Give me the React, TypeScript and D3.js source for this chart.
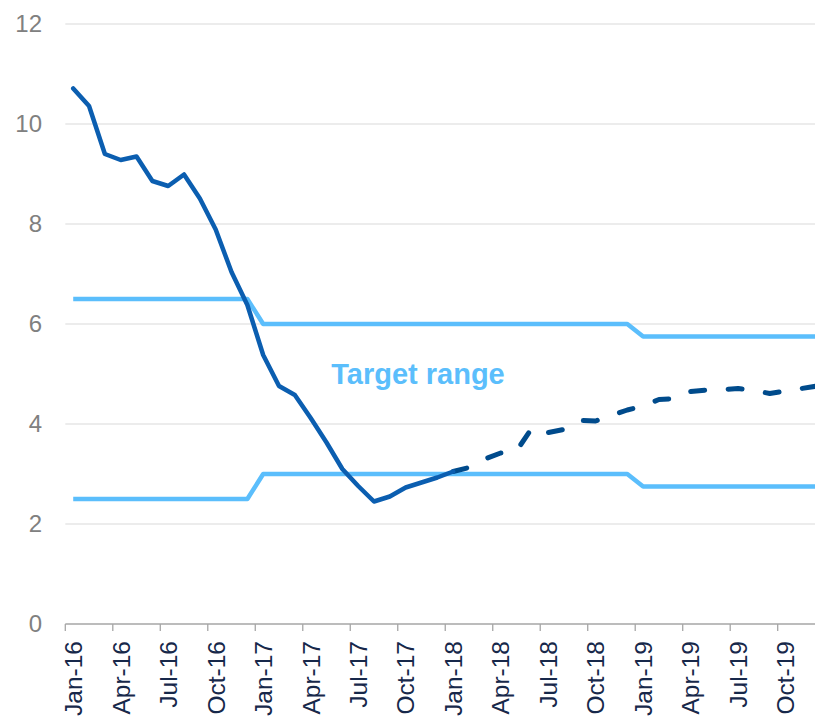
import React from "react";
import * as d3 from "d3";

const monthNames = ["Jan", "Feb", "Mar", "Apr", "May", "Jun", "Jul", "Aug", "Sep", "Oct", "Nov", "Dec"];
const years = ["16", "17", "18", "19"];
const months: string[] = years.flatMap((y) => monthNames.map((m) => `${m}-${y}`));

// Actual inflation (solid), Jan-16 .. Jan-18
const actual = [
  10.71, 10.36, 9.4, 9.28, 9.35, 8.86, 8.76, 8.99, 8.51, 7.89, 7.04, 6.38,
  5.38, 4.76, 4.58, 4.12, 3.63, 3.1, 2.76, 2.45, 2.55, 2.73, 2.83, 2.93,
  3.05,
];
// Forecast (dashed), Jan-18 .. Dec-19
const forecast = [
  3.05, 3.13, 3.3, 3.42, 3.46, 3.93, 3.83, 3.89, 4.07, 4.06, 4.17, 4.28,
  4.36, 4.49, 4.51, 4.65, 4.68, 4.69, 4.71, 4.67, 4.61, 4.66, 4.71, 4.76,
];
// Target range bounds, Jan-16 .. Dec-19
const upperTarget = [
  6.5, 6.5, 6.5, 6.5, 6.5, 6.5, 6.5, 6.5, 6.5, 6.5, 6.5, 6.5,
  6, 6, 6, 6, 6, 6, 6, 6, 6, 6, 6, 6,
  6, 6, 6, 6, 6, 6, 6, 6, 6, 6, 6, 6,
  5.75, 5.75, 5.75, 5.75, 5.75, 5.75, 5.75, 5.75, 5.75, 5.75, 5.75, 5.75,
];
const lowerTarget = [
  2.5, 2.5, 2.5, 2.5, 2.5, 2.5, 2.5, 2.5, 2.5, 2.5, 2.5, 2.5,
  3, 3, 3, 3, 3, 3, 3, 3, 3, 3, 3, 3,
  3, 3, 3, 3, 3, 3, 3, 3, 3, 3, 3, 3,
  2.75, 2.75, 2.75, 2.75, 2.75, 2.75, 2.75, 2.75, 2.75, 2.75, 2.75, 2.75,
];
const yTicks = [0, 2, 4, 6, 8, 10, 12];
const forecastStart = 24; // index of Jan-18
const annotation = "Target range";

const W = 815;
const H = 721;

export default function App() {
  const monthW = 15.831;
  const x0 = 65.3;
  const x = d3.scaleLinear().domain([0, months.length]).range([x0, x0 + months.length * monthW]);
  const y = d3.scaleLinear().domain([0, 12]).range([624, 24]);
  const xc = (i: number) => x(i + 0.5);

  const line = d3
    .line<number>()
    .x((_, i) => xc(i))
    .y((d) => y(d));
  const lineF = d3
    .line<number>()
    .x((_, i) => xc(i + forecastStart))
    .y((d) => y(d));

  const quarterIdx = d3.range(0, months.length, 3);

  return (
    <svg
      width={W}
      height={H}
      style={{ position: "absolute", left: 0, top: 0, background: "#fff" }}
      fontFamily="'Liberation Sans', Arial, sans-serif"
    >
      <defs>
        <clipPath id="plot">
          <rect x={0} y={0} width={W} height={H} />
        </clipPath>
      </defs>
      {yTicks.filter((t) => t > 0).map((t) => (
        <line key={t} x1={x0} x2={W} y1={y(t)} y2={y(t)} stroke="#D9D9D9" strokeWidth={1.2} />
      ))}
      {yTicks.map((t) => (
        <text key={t} x={42} y={y(t)} dy="0.35em" textAnchor="end" fontSize={24} fill="#808080">
          {t}
        </text>
      ))}
      <line x1={x0} x2={W} y1={y(0)} y2={y(0)} stroke="#A6A6A6" strokeWidth={1.3} />
      {quarterIdx.map((i) => (
        <line key={i} x1={x(i)} x2={x(i)} y1={y(0)} y2={y(0) + 7} stroke="#A6A6A6" strokeWidth={1.3} />
      ))}
      {quarterIdx.map((i) => (
        <text
          key={"l" + i}
          transform={`translate(${xc(i)},641) rotate(-90)`}
          textAnchor="end"
          dy="0.36em"
          fontSize={24.5}
          fill="#17284A"
        >
          {months[i]}
        </text>
      ))}
      <g clipPath="url(#plot)">
        <path d={line(upperTarget) || ""} fill="none" stroke="#5BBEFC" strokeWidth={4.5} strokeLinejoin="round" />
        <path d={line(lowerTarget) || ""} fill="none" stroke="#5BBEFC" strokeWidth={4.5} strokeLinejoin="round" />
        <path
          d={lineF(forecast) || ""}
          fill="none"
          stroke="#004B8C"
          strokeWidth={5}
          strokeLinejoin="round"
          strokeLinecap="round"
          strokeDasharray="14 23.5"
        />
        <path d={line(actual) || ""} fill="none" stroke="#0B5EB0" strokeWidth={4.5} strokeLinejoin="round" strokeLinecap="round" />
      </g>
      <text x={418} y={384} textAnchor="middle" fontSize={29} fontWeight="bold" fill="#5BBEFC">
        {annotation}
      </text>
    </svg>
  );
}
